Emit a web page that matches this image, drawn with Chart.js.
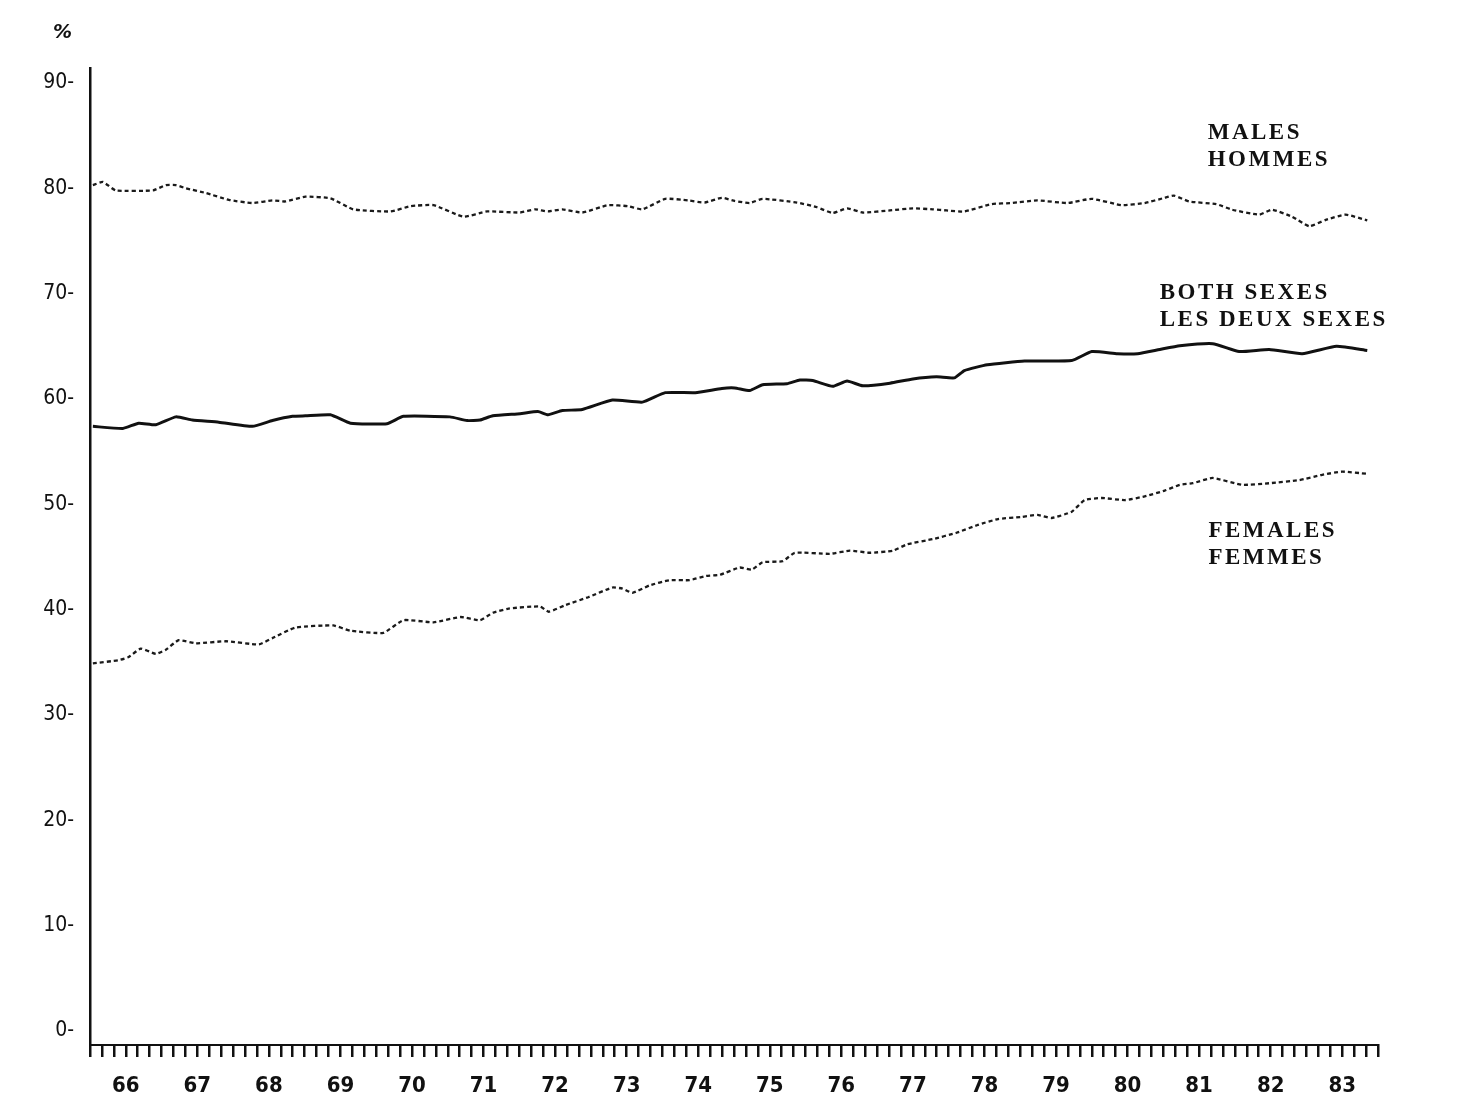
<!DOCTYPE html>
<html>
<head>
<meta charset="utf-8">
<script src="https://cdn.jsdelivr.net/npm/chart.js@4.4.0/dist/chart.umd.min.js"></script>
<style>
  html, body { margin: 0; padding: 0; background: #fff; }
</style>
</head>
<body>
<canvas id="rateChart" width="1471" height="1118"></canvas>
<script>
// decimal years + participation rate (%)
const malesYear = [1966.04,1966.18,1966.36,1966.88,1967.06,1967.20,1967.34,1967.62,1967.94,1968.27,1968.55,1968.73,
  1969.01,1969.36,1969.68,1970.20,1970.48,1970.80,1971.22,1971.55,1972.01,1972.22,1972.40,1972.60,1972.88,
  1973.24,1973.52,1973.72,1974.04,1974.36,1974.59,1974.83,1975.01,1975.22,1975.40,1975.88,1976.16,1976.38,
  1976.58,1976.80,1977.18,1977.50,1977.78,1977.97,1978.22,1978.60,1978.88,1979.24,1979.66,1980.00,1980.42,
  1980.74,1981.02,1981.15,1981.36,1981.74,1981.96,1982.34,1982.52,1982.80,1983.04,1983.27,1983.55,1983.85];
const malesPct = [80.3,80.6,79.8,79.8,80.3,80.3,80.0,79.55,78.9,78.6,78.85,78.75,
  79.2,79.05,78.0,77.8,78.3,78.4,77.3,77.8,77.7,78.0,77.8,78.0,77.7,
  78.4,78.3,78.0,79.0,78.85,78.65,79.1,78.8,78.6,79.0,78.65,78.2,77.65,
  78.1,77.7,77.9,78.1,78.0,77.9,77.8,78.5,78.6,78.85,78.6,79.0,78.4,
  78.6,79.1,79.3,78.75,78.5,77.97,77.5,77.97,77.3,76.4,77.0,77.5,76.95];

const bothYear = [1966.04,1966.46,1966.68,1966.92,1967.20,1967.43,1967.80,1968.27,1968.55,1968.83,1969.01,1969.36,
  1969.64,1970.15,1970.38,1971.03,1971.27,1971.45,1971.63,1972.01,1972.26,1972.40,1972.60,1972.88,1973.30,
  1973.72,1974.04,1974.46,1974.83,1975.01,1975.22,1975.40,1975.74,1975.92,1976.10,1976.38,1976.58,1976.80,
  1977.18,1977.50,1977.83,1978.08,1978.22,1978.54,1979.06,1979.72,1980.00,1980.36,1980.64,1980.95,1981.23,
  1981.69,1982.06,1982.48,1982.94,1983.42,1983.85];
const bothPct = [57.4,57.2,57.7,57.55,58.3,58.0,57.8,57.4,57.95,58.35,58.4,58.5,
  57.7,57.65,58.35,58.3,57.95,58.0,58.4,58.6,58.8,58.5,58.9,59.0,59.9,
  59.7,60.6,60.6,61.0,61.05,60.8,61.35,61.45,61.8,61.75,61.2,61.7,61.25,
  61.5,61.9,62.1,62.0,62.7,63.25,63.6,63.65,64.5,64.3,64.3,64.7,65.05,
  65.25,64.5,64.7,64.3,65.0,64.6];

const femalesYear = [1966.04,1966.40,1966.54,1966.71,1966.92,1967.06,1967.24,1967.48,1967.90,1968.36,1968.55,1968.87,
  1969.40,1969.64,1970.10,1970.38,1970.80,1971.18,1971.45,1971.63,1971.85,1972.29,1972.41,1972.65,1972.97,
  1973.30,1973.44,1973.58,1973.82,1974.10,1974.38,1974.61,1974.80,1975.08,1975.25,1975.40,1975.68,1975.85,
  1976.34,1976.62,1976.90,1977.22,1977.42,1977.78,1978.11,1978.41,1978.69,1979.02,1979.24,1979.44,1979.72,
  1979.90,1980.14,1980.46,1980.74,1981.02,1981.23,1981.41,1981.69,1982.10,1982.48,1982.90,1983.22,1983.50,1983.84];
const femalesPct = [34.9,35.2,35.5,36.3,35.8,36.2,37.1,36.8,37.0,36.7,37.3,38.3,
  38.5,38.0,37.8,39.0,38.8,39.3,39.0,39.7,40.1,40.3,39.8,40.45,41.2,
  42.1,42.0,41.6,42.3,42.8,42.8,43.2,43.3,44.0,43.8,44.5,44.6,45.4,
  45.3,45.6,45.4,45.6,46.2,46.7,47.3,48.05,48.6,48.8,49.0,48.7,49.3,
  50.4,50.6,50.4,50.75,51.3,51.85,52.0,52.5,51.85,52.0,52.3,52.8,53.1,52.9];

const yearLabels = ['66','67','68','69','70','71','72','73','74','75','76','77','78','79','80','81','82','83'];
const yTicks = [0,10,20,30,40,50,60,70,80,90];

// series name labels, placed in data coordinates (year, %)
const seriesLabels = [
  { lines: ['MALES', 'HOMMES'], year: 1981.62, pct: 85.2 },
  { lines: ['BOTH SEXES', 'LES DEUX SEXES'], year: 1980.95, pct: 70.1 },
  { lines: ['FEMALES', 'FEMMES'], year: 1981.63, pct: 47.5 }
];

const pairs = (xs, ys) => xs.map((x, i) => ({ x: x, y: ys[i] }));

const labelPlugin = {
  id: 'seriesLabels',
  afterDraw(chart) {
    const { ctx, scales } = chart;
    ctx.save();
    ctx.fillStyle = '#111';
    ctx.textBaseline = 'middle';
    ctx.font = 'bold 23px "Liberation Serif", serif';
    ctx.letterSpacing = '2.5px';
    seriesLabels.forEach(l => {
      const px = scales.x.getPixelForValue(l.year);
      const py = scales.y.getPixelForValue(l.pct);
      l.lines.forEach((t, i) => ctx.fillText(t, px, py + i * 27));
    });
    ctx.letterSpacing = '0px';
    ctx.font = 'italic bold 19px "DejaVu Sans", sans-serif';
    ctx.fillText('%', 53, 33);
    ctx.restore();
  }
};

const yearStart = 1966, yearEnd = 1984;
const perYear = 6;

new Chart(document.getElementById('rateChart'), {
  type: 'line',
  data: {
    datasets: [
      { label: 'Males', data: pairs(malesYear, malesPct), borderColor: '#1a1a1a', borderWidth: 2.3,
        borderDash: [4, 3], pointRadius: 0, tension: 0.15 },
      { label: 'Both sexes', data: pairs(bothYear, bothPct), borderColor: '#111', borderWidth: 3,
        pointRadius: 0, tension: 0.15 },
      { label: 'Females', data: pairs(femalesYear, femalesPct), borderColor: '#1a1a1a', borderWidth: 2.3,
        borderDash: [4, 3], pointRadius: 0, tension: 0.15 }
    ]
  },
  options: {
    responsive: false,
    animation: false,
    layout: { padding: { left: 0, right: 93, top: 68, bottom: 0 } },
    plugins: { legend: { display: false }, tooltip: { enabled: false } },
    scales: {
      x: {
        type: 'linear',
        min: yearStart,
        max: yearEnd,
        afterBuildTicks: s => {
          const t = [];
          for (let k = 0; k <= (yearEnd - yearStart) * perYear; k++) t.push({ value: yearStart + k / perYear });
          s.ticks = t;
        },
        afterFit: s => { s.height = 1118 - 1045; },
        border: { color: '#111', width: 2 },
        grid: { drawOnChartArea: false, color: '#111', lineWidth: 2.5, tickLength: 12 },
        ticks: {
          autoSkip: false,
          maxRotation: 0,
          padding: 16,
          color: '#111',
          font: { family: '"Liberation Sans Narrow", "DejaVu Sans Condensed", sans-serif', size: 22, weight: 'bold' },
          callback: (v, i) => (i % perYear === 3 ? yearLabels[(i - 3) / perYear] : '')
        }
      },
      y: {
        min: -1.33,
        max: 91.42,
        afterBuildTicks: s => { s.ticks = yTicks.map(v => ({ value: v })); },
        afterFit: s => { s.width = 90; },
        border: { color: '#111', width: 2.5 },
        grid: { display: false },
        ticks: {
          padding: 8,
          color: '#111',
          font: { family: '"Liberation Sans Narrow", "DejaVu Sans Condensed", sans-serif', size: 21 },
          callback: v => v + '-'
        }
      }
    }
  },
  plugins: [labelPlugin]
});
</script>
</body>
</html>
